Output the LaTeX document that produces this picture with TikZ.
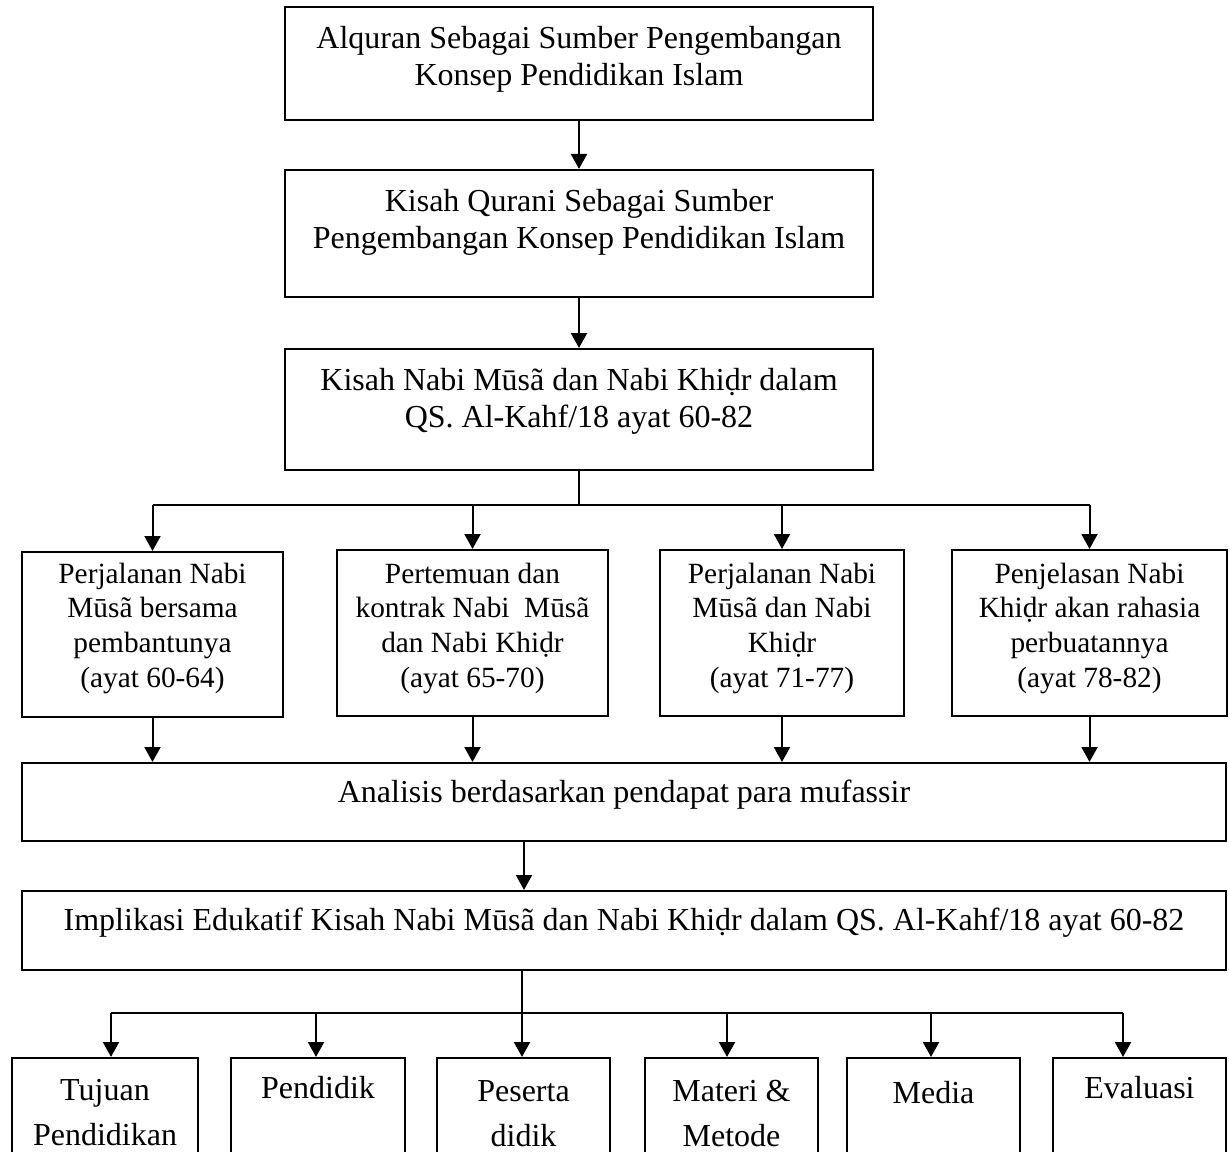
\documentclass[tikz,border=0pt]{standalone}
\usepackage{fontspec}
\setmainfont{Liberation Serif}
\usepackage{tikz}
\usetikzlibrary{arrows.meta}

\begin{document}
\begin{tikzpicture}[
    x=0.375pt, y=-0.375pt,
    box/.style={draw, line width=0.8pt, inner sep=0pt},
    boxsize/.style 2 args={minimum width=#1*0.375pt, minimum height=#2*0.375pt},
    txt/.style={align=center, inner sep=0pt, font=\fontsize{12}{13.8}\selectfont},
    txtsmall/.style={align=center, inner sep=0pt, font=\fontsize{11}{13}\selectfont},
    txtwide/.style={align=center, inner sep=0pt, font=\fontsize{12}{16.9}\selectfont},
    arrow/.style={-{Triangle[length=5.6pt, width=6pt]}, line width=0.75pt}
]
\clip (0,0) rectangle (1229,1151);

% Top chain
\node[box, boxsize={588}{113}] (k1) at (579,63.5) {};
\node[box, boxsize={588}{127}] (k2) at (579,233.5) {};
\node[box, boxsize={588}{121}] (k3) at (579,409.5) {};
\node[txt] (k1t) at (579,59.5) {Alquran Sebagai Sumber Pengembangan\\Konsep Pendidikan Islam};
\node[txt] (k2t) at (579,222.5) {Kisah Qurani Sebagai Sumber\\Pengembangan Konsep Pendidikan Islam};
\node[txt] (k3t) at (579,401.5) {Kisah Nabi Mūsã dan Nabi Khiḍr dalam\\QS. Al-Kahf/18 ayat 60-82};

\draw[arrow] (k1) -- (k2);
\draw[arrow] (k2) -- (k3);

% Four parts of the story
\node[box, boxsize={261}{165}] (pA) at (152.5,634.5) {};
\node[box, boxsize={271}{166}] (pB) at (472.5,633) {};
\node[box, boxsize={244}{166}] (pC) at (782,633) {};
\node[box, boxsize={275}{166}] (pD) at (1089.5,633) {};
\node[txtsmall] (pAt) at (152.5,628) {Perjalanan Nabi\\Mūsã bersama\\pembantunya\\(ayat 60-64)};
\node[txtsmall] (pBt) at (472.5,628) {Pertemuan dan\\kontrak Nabi\ \ Mūsã\\dan Nabi Khiḍr\\(ayat 65-70)};
\node[txtsmall] (pCt) at (782,628) {Perjalanan Nabi\\Mūsã dan Nabi\\Khiḍr\\(ayat 71-77)};
\node[txtsmall] (pDt) at (1089.5,628) {Penjelasan Nabi\\Khiḍr akan rahasia\\perbuatannya\\(ayat 78-82)};

\coordinate (split) at (579,505);
\draw[line width=0.75pt] (k3) -- (split);
\draw[line width=0.75pt] (split -| pA) -- (split -| pD);
\foreach \n in {pA,pB,pC,pD}
    \draw[arrow] (split -| \n) -- (\n.north);

% Analysis and implications
\node[box, boxsize={1204}{78}] (ana) at (624,802) {};
\node[box, boxsize={1204}{79}] (imp) at (624,930.5) {};
\node[txt] (anat) at (624,795) {Analisis berdasarkan pendapat para mufassir};
\node[txt] (impt) at (624,923) {Implikasi Edukatif Kisah Nabi Mūsã dan Nabi Khiḍr dalam QS. Al-Kahf/18 ayat 60-82};

\foreach \n in {pA,pB,pC,pD}
    \draw[arrow] (\n.south) -- (\n.south |- ana.north);
\coordinate (mid) at (524,850);
\draw[arrow] (ana.south -| mid) -- (imp.north -| mid);

% Components of education
\node[box, boxsize={186}{142}] (t1) at (105,1129) {};
\node[box, boxsize={174}{142}] (t2) at (318,1129) {};
\node[box, boxsize={173}{142}] (t3) at (523.5,1129) {};
\node[box, boxsize={173}{142}] (t4) at (731.5,1129) {};
\node[box, boxsize={173}{142}] (t5) at (933.5,1129) {};
\node[box, boxsize={173}{142}] (t6) at (1139.5,1129) {};
\node[txtwide] (t1t) at (105,1112.5) {Tujuan\\Pendidikan};
\node[txtwide] (t2t) at (318,1088) {Pendidik};
\node[txtwide] (t3t) at (523.5,1114) {Peserta\\didik};
\node[txtwide] (t4t) at (731.5,1113.5) {Materi \&\\Metode};
\node[txtwide] (t5t) at (933.5,1093) {Media};
\node[txtwide] (t6t) at (1139.5,1088) {Evaluasi};

\coordinate (split2) at (522,1013);
\draw[line width=0.75pt] (imp.south -| split2) -- (split2);
\foreach \x [count=\i] in {111,316,522,727,931,1123}
    \coordinate (d\i) at (\x,1013);
\draw[line width=1pt] (d1) -- (d6);
\foreach \i in {1,...,6}
    \draw[arrow] (d\i) -- (t\i.north -| d\i);

\end{tikzpicture}
\end{document}
